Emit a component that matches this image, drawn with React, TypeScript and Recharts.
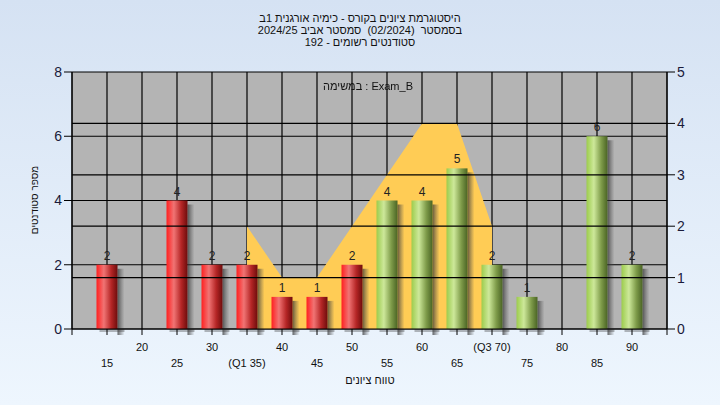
import { ComposedChart, Bar, Area, XAxis, YAxis, CartesianGrid, ReferenceLine, LabelList } from 'recharts';

const grades = [15, 20, 25, 30, 35, 40, 45, 50, 55, 60, 65, 70, 75, 80, 85, 90];
const gradeLabels = ['15', '20', '25', '30', '(Q1 35)', '40', '45', '50', '55', '60', '65', '(Q3 70)', '75', '80', '85', '90'];
const students = [2, 0, 4, 2, 2, 1, 1, 2, 4, 4, 5, 2, 1, 0, 6, 2];
// orange band between the quartiles, read on the right axis
const quartileBand = [null, null, null, null, 2, 1, 1, 2, 3, 4, 4, 2, null, null, null, null];
const xTicks = [10, 15, 20, 25, 30, 35, 40, 45, 50, 55, 60, 65, 70, 75, 80, 85, 90, 95];
const leftTicks = [0, 2, 4, 6, 8];
const rightTicks = [0, 1, 2, 3, 4, 5];
const rightGrid = [1, 2, 3, 4];

const titleLines = [
  'היסטוגרמת ציונים בקורס - כימיה אורגנית 1ב',
  'בסמסטר  (02/2024)  סמסטר אביב 2024/25',
  'סטודנטים רשומים - 192',
];
const xTitle = 'טווח ציונים';
const yTitle = 'מספר סטודנטים';
const legendText = 'במשימה : Exam_B';

const FONT = '"Liberation Sans", Arial, "DejaVu Sans", sans-serif';

const data = grades.map((g, i) => ({
  grade: g,
  label: gradeLabels[i],
  count: students[i] > 0 ? students[i] : null,
  band: quartileBand[i],
}));

const CylinderBar = (props: any) => {
  const { x, y, width, height, payload } = props;
  if (!height || height <= 0) return null;
  const grad = payload.grade <= 50 ? 'url(#redBar)' : 'url(#greenBar)';
  return (
    <g>
      <rect x={x + width} y={y + 4} width={7} height={height + 2} fill="url(#barShadow)" />
      <rect x={x + 3} y={y + height} width={width + 4} height={3} fill="rgba(60,60,60,0.35)" />
      <rect x={x} y={y} width={width} height={height} fill={grad} />
    </g>
  );
};

const XTick = (props: any) => {
  const { x, y, payload } = props;
  const idx = grades.indexOf(payload.value);
  if (idx < 0) return null;
  const upper = payload.value % 10 === 0;
  return (
    <text x={x} y={y + (upper ? 14 : 30)} textAnchor="middle" fontSize={11} fill="#111" fontFamily={FONT}>
      {gradeLabels[idx]}
    </text>
  );
};

export default function App() {
  return (
    <div
      style={{
        position: 'fixed',
        left: 0,
        top: 0,
        width: 720,
        height: 405,
        background: 'linear-gradient(180deg, #d5e2f3 0%, #eef6fe 100%)',
        fontFamily: FONT,
      }}
    >
      <div style={{ position: 'absolute', top: 12, left: 0, width: 720, textAlign: 'center', fontSize: 11, lineHeight: '12px', color: '#111' }} dir="rtl">
        {titleLines.map((t) => (
          <div key={t} style={{ whiteSpace: 'pre', height: 12 }}>{t}</div>
        ))}
      </div>
      <ComposedChart
        width={720}
        height={405}
        data={data}
        margin={{ top: 72, right: 0, bottom: 0, left: 0 }}
        style={{ position: 'absolute', left: 0, top: 0 }}
      >
        <defs>
          <linearGradient id="redBar" x1="0" y1="0" x2="1" y2="0">
            <stop offset="0%" stopColor="#ff2020" />
            <stop offset="35%" stopColor="#f07474" />
            <stop offset="70%" stopColor="#b52626" />
            <stop offset="100%" stopColor="#6e0c0c" />
          </linearGradient>
          <linearGradient id="greenBar" x1="0" y1="0" x2="1" y2="0">
            <stop offset="0%" stopColor="#9ccc4c" />
            <stop offset="35%" stopColor="#cde89a" />
            <stop offset="70%" stopColor="#7f9c4a" />
            <stop offset="100%" stopColor="#4a6424" />
          </linearGradient>
          <linearGradient id="barShadow" x1="0" y1="0" x2="1" y2="0">
            <stop offset="0%" stopColor="#333" stopOpacity={0.75} />
            <stop offset="100%" stopColor="#555" stopOpacity={0} />
          </linearGradient>
        </defs>
        <CartesianGrid yAxisId="left" stroke="#000" strokeWidth={1.2} fill="#b4b4b4" fillOpacity={1} />
        {rightGrid.map((v) => (
          <ReferenceLine key={v} yAxisId="right" y={v} stroke="#000" strokeWidth={1.2} />
        ))}
        <XAxis
          dataKey="grade"
          type="number"
          domain={[10, 95]}
          ticks={xTicks}
          interval={0}
          height={76}
          tick={<XTick />}
          tickSize={6}
          stroke="#000"
        />
        <YAxis
          yAxisId="left"
          domain={[0, 8]}
          ticks={leftTicks}
          width={72}
          tickSize={8}
          tickMargin={2}
          stroke="#000"
          tick={{ fontSize: 14, fill: '#1a1a3a', fontFamily: FONT }}
        />
        <YAxis
          yAxisId="right"
          orientation="right"
          domain={[0, 5]}
          ticks={rightTicks}
          width={53}
          tickSize={8}
          tickMargin={2}
          stroke="#000"
          tick={{ fontSize: 14, fill: '#1a1a3a', fontFamily: FONT }}
        />
        <Area
          yAxisId="right"
          dataKey="band"
          type="linear"
          fill="#ffcc55"
          fillOpacity={1}
          stroke="none"
          isAnimationActive={false}
        />
        <Bar yAxisId="left" dataKey="count" barSize={21} shape={<CylinderBar />} isAnimationActive={false}>
          <LabelList dataKey="count" position="top" offset={5} fontSize={12} fill="#222" fontFamily={FONT} />
        </Bar>
      </ComposedChart>
      <div style={{ position: 'absolute', top: 80, left: 0, width: 736, textAlign: 'center', fontSize: 11, color: '#111' }} dir="ltr">
        {legendText}
      </div>
      <div style={{ position: 'absolute', top: 374, left: 270, width: 200, textAlign: 'center', fontSize: 11, color: '#111' }} dir="rtl">
        {xTitle}
      </div>
      <div
        style={{
          position: 'absolute',
          top: 193,
          left: -65,
          width: 200,
          textAlign: 'center',
          fontSize: 10,
          lineHeight: '14px',
          color: '#111',
          transform: 'rotate(-90deg)',
        }}
        dir="rtl"
      >
        {yTitle}
      </div>
    </div>
  );
}
